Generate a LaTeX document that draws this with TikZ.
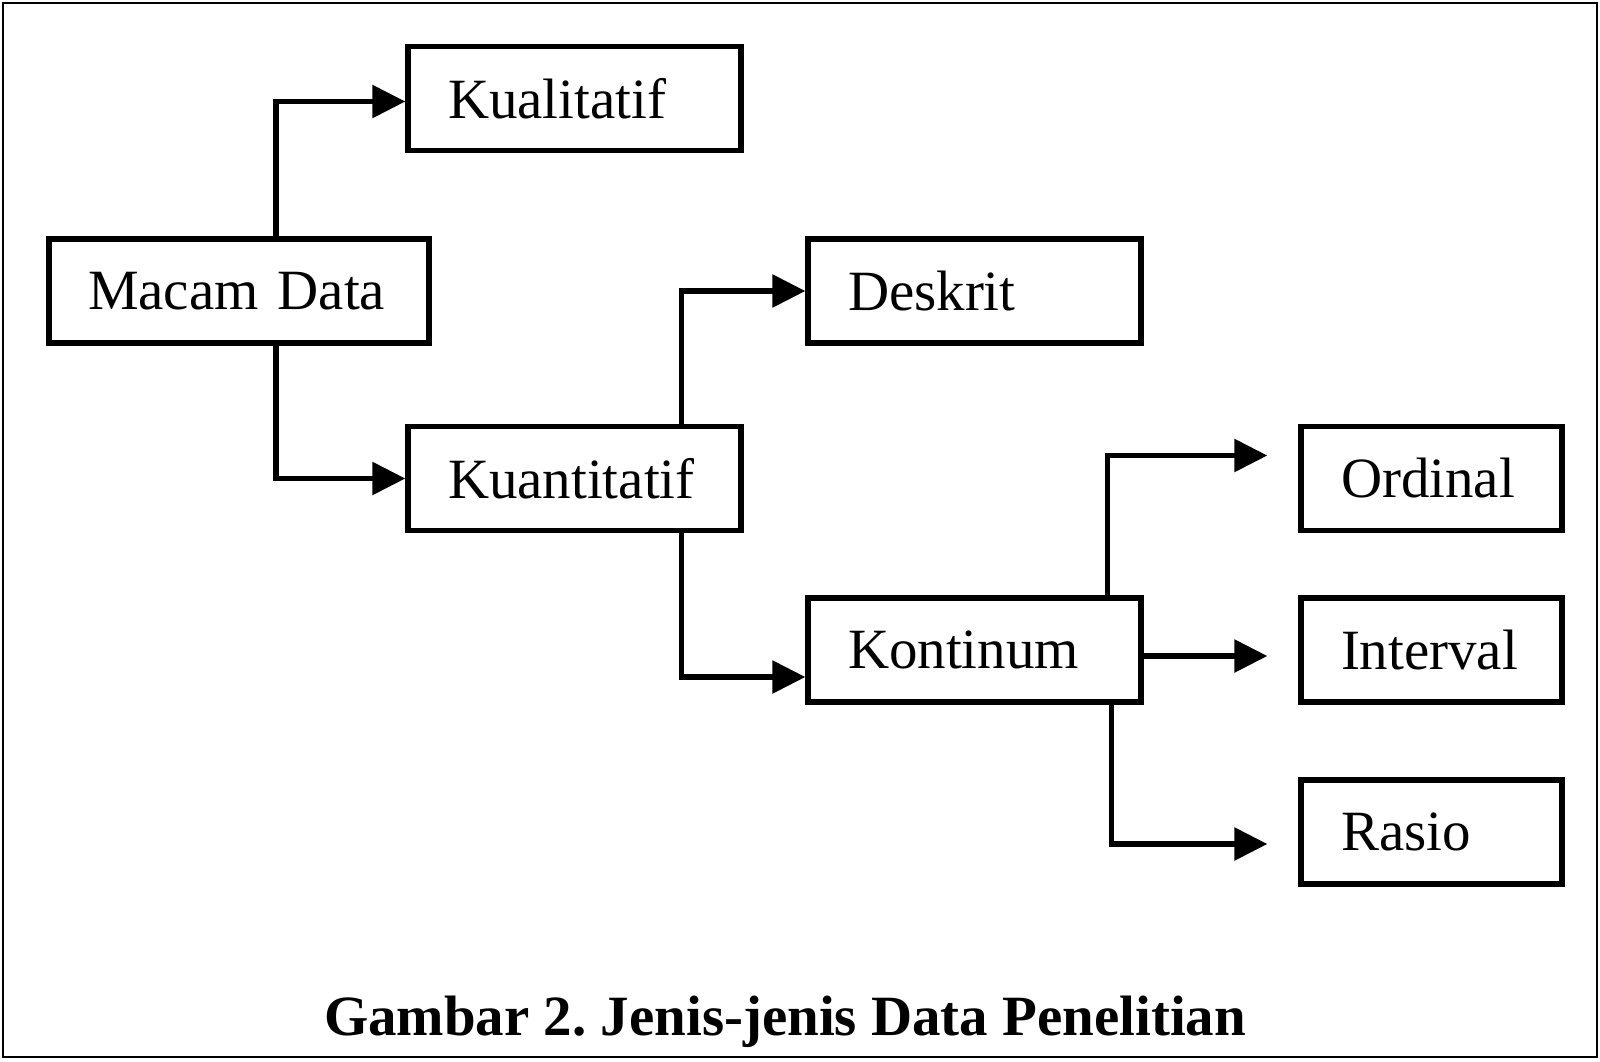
\documentclass[tikz,border=0pt]{standalone}
\usepackage{fontspec}
\setmainfont{Liberation Serif}
\usetikzlibrary{arrows.meta}
\tikzset{
	kotak/.style={draw, line width=1.5pt, rectangle, inner xsep=0.4cm, align=left,
		minimum height=1.04cm, font=\fontsize{16.2}{19}\selectfont},
	panah/.style={line width=1.6pt, -{Triangle[length=0.33cm,width=0.32cm]}}
}
\frenchspacing
\begin{document}
\begin{tikzpicture}[scale=1.0]
	\useasboundingbox (0,0) rectangle (16,10.61);
	\draw[line width=0.8pt] (0.03,0.04) rectangle (15.97,10.58);
	% kotak-kotak
	\node[kotak, text width=3.02cm, inner xsep=0.39cm] (macam) at (2.39,7.70) {Macam Data};
	\node[kotak, text width=2.53cm] (kual) at (5.745,9.625) {Kualitatif};
	\node[kotak, text width=2.53cm] (kuan) at (5.745,5.825) {Kuantitatif};
	\node[kotak, text width=2.53cm] (desk) at (9.745,7.70) {Deskrit};
	\node[kotak, text width=2.53cm] (kont) at (9.745,4.11) {Kontinum};
	\node[kotak, text width=1.81cm] (ord) at (14.315,5.825) {Ordinal};
	\node[kotak, text width=1.81cm] (intv) at (14.315,4.11) {Interval};
	\node[kotak, text width=1.81cm] (ras) at (14.315,2.29) {Rasio};
	% panah
	\draw[panah] ([xshift=0.37cm]macam.north) |- ([yshift=-0.03cm]kual.west);
	\draw[panah] ([xshift=0.37cm]macam.south) |- (kuan.west);
	\draw[panah] ([xshift=1.07cm]kuan.north) |- (desk.west);
	\draw[panah] ([xshift=1.07cm]kuan.south) |- ([yshift=-0.27cm]kont.west);
	\draw[panah, shorten >=0.31cm] ([xshift=1.33cm]kont.north) |- ([yshift=0.23cm]ord.west);
	\draw[panah, shorten >=0.31cm] ([yshift=-0.06cm]kont.east) -- ([yshift=-0.06cm]kont.east -| intv.west);
	\draw[panah, shorten >=0.31cm] ([xshift=1.37cm,yshift=0.05cm]kont.south) |- ([yshift=-0.12cm]ras.west);
	\node[anchor=base, font=\fontsize{16.2}{20}\selectfont\bfseries] (judul) at (7.85,0.26)
		{Gambar 2. Jenis-jenis Data Penelitian};
\end{tikzpicture}
\end{document}
